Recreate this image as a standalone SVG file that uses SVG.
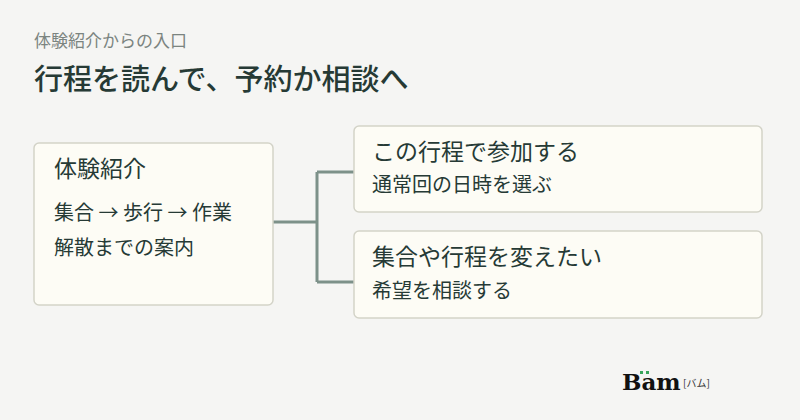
<svg xmlns="http://www.w3.org/2000/svg" width="800" height="420" viewBox="0 0 800 420">
<style>
text{font-family:"Noto Sans CJK JP","Noto Sans",sans-serif;fill:#263a35}
.box{fill:#fdfcf5;stroke:#d3d3c8;stroke-width:1.5}
.h{font-size:23px}
.b{font-size:20px}
.c{fill:none;stroke:#7d9189;stroke-width:3}
</style>
<rect width="800" height="420" fill="#f5f5f3"/>
<text x="34" y="47" font-size="17" style="fill:#7b8480">体験紹介からの入口</text>
<text x="34" y="90" font-size="29" font-weight="500" style="fill:#263a35">行程を読んで、予約か相談へ</text>
<g id="connectors">
<path class="c" d="M273 222H317M317 172V282M317 172H354M317 282H354"/>
</g>
<g id="intro">
<rect class="box" x="34" y="143" width="239" height="162" rx="5"/>
<text class="h" x="54" y="177">体験紹介</text>
<text class="b" x="54" y="220">集合 → 歩行 → 作業</text>
<text class="b" x="54" y="255">解散までの案内</text>
</g>
<g id="book">
<rect class="box" x="354" y="126" width="408" height="86" rx="5"/>
<text class="h" x="372" y="160">この行程で参加する</text>
<text class="b" x="372" y="192">通常回の日時を選ぶ</text>
</g>
<g id="consult">
<rect class="box" x="354" y="231" width="408" height="87" rx="5"/>
<text class="h" x="372" y="265">集合や行程を変えたい</text>
<text class="b" x="372" y="298">希望を相談する</text>
</g>
<g id="logo">
<text x="622" y="390" font-size="23" font-weight="bold" style="font-family:'DejaVu Serif',serif;fill:#111">Bam</text>
<rect x="640" y="371" width="3" height="3" fill="#3aa55a"/>
<rect x="646" y="371" width="3" height="3" fill="#3aa55a"/>
<text x="683" y="387" font-size="10" style="fill:#333">[バム]</text>
</g>
</svg>
